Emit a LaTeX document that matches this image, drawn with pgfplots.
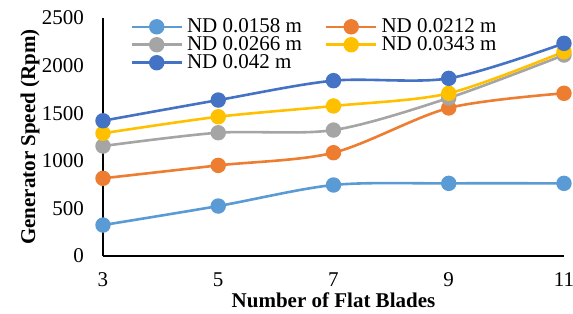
\documentclass[border=0pt]{standalone}
\usepackage{pgfplots}
\pgfplotsset{compat=1.18}
\usepackage{fontspec}
\setmainfont{Liberation Serif}
\definecolor{c1}{HTML}{5B9BD5}
\definecolor{c2}{HTML}{ED7D31}
\definecolor{c3}{HTML}{A5A5A5}
\definecolor{c4}{HTML}{FFC000}
\definecolor{c5}{HTML}{4472C4}
\begin{document}
\begin{tikzpicture}
\begin{axis}[
  scale only axis,
  width=230.5pt, height=119pt,
  xmin=3, xmax=11, ymin=0, ymax=2500,
  xtick={3,5,7,9,11}, ytick={0,500,1000,1500,2000,2500},
  axis x line=bottom, axis y line=left,
  axis line style={-, line width=0.6pt, black},
  major tick length=0pt,
  /pgf/number format/assume math mode=true,
  /pgf/number format/1000 sep={},
  tick label style={font=\fontsize{10.5}{12}\selectfont},
  yticklabel style={xshift=-6pt},
  xticklabel style={yshift=-5pt},
  label style={font=\fontsize{10.5}{12}\selectfont\bfseries},
  xlabel={Number of Flat Blades},
  ylabel={Generator Speed (Rpm)},
  xlabel style={at={(axis description cs:0.5,-0.185)}, anchor=center},
  ylabel style={at={(axis description cs:-0.158,0.5)}, anchor=center},
  legend columns=2,
  legend style={draw=none, fill=none, at={(axis description cs:0.0456,1.034)}, anchor=north west,
    font=\fontsize{10.5}{12}\selectfont, row sep=-3.5pt,
    /tikz/every even column/.append style={column sep=9.5pt}},
  legend cell align=left,
  legend image code/.code={\draw[mark repeat=2,mark phase=2] plot coordinates {(0pt,0pt)(12.5pt,0pt)(25pt,0pt)};},
  every axis plot/.append style={line width=1.3pt, smooth, tension=0.5, mark=*, mark size=3.2pt},
]
\addplot[c1, mark options={fill=c1, draw=c1}] coordinates {(3,325)(5,525)(7,746)(9,763)(11,763)};
\addlegendentry{ND 0.0158 m}
\addplot[c2, mark options={fill=c2, draw=c2}] coordinates {(3,816)(5,952)(7,1085)(9,1555)(11,1709)};
\addlegendentry{ND 0.0212 m}
\addplot[c3, mark options={fill=c3, draw=c3}] coordinates {(3,1155)(5,1295)(7,1323)(9,1660)(11,2111)};
\addlegendentry{ND 0.0266 m}
\addplot[c4, mark options={fill=c4, draw=c4}] coordinates {(3,1289)(5,1463)(7,1576)(9,1709)(11,2146)};
\addlegendentry{ND 0.0343 m}
\addplot[c5, mark options={fill=c5, draw=c5}] coordinates {(3,1421)(5,1638)(7,1842)(9,1866)(11,2234)};
\addlegendentry{ND 0.042 m}
\end{axis}
\pgfresetboundingbox
\useasboundingbox (-51.5pt,-28.5pt) rectangle (235pt,128pt);
\end{tikzpicture}
\end{document}
